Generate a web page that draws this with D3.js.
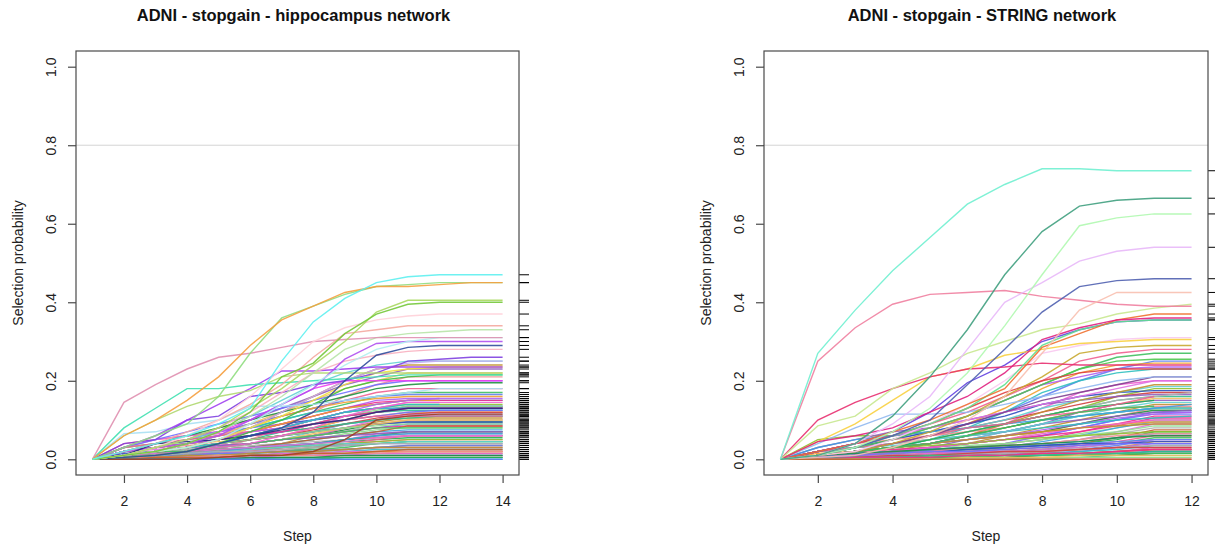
<!DOCTYPE html>
<html>
<head>
<meta charset="utf-8">
<script src="https://cdn.jsdelivr.net/npm/d3@7"></script>
<style>
  body { margin: 0; background: #fff; }
  svg { font-family: "Liberation Sans", Arial, sans-serif; }
</style>
</head>
<body>
<svg id="chart" width="1215" height="550"></svg>
<script>
// selection probability, in percent, one array per feature
const hippoSteps = [1, 2, 3, 4, 5, 6, 7, 8, 9, 10, 11, 12, 13, 14];
const hippoTicks = [2, 4, 6, 8, 10, 12, 14];
const hippoTop = [
  [0, 2, 4, 6, 9, 13, 25, 35, 41, 45, 46.5, 47, 47, 47],
  [0, 6, 10, 15, 21, 29, 35.5, 39, 42.5, 44, 44, 44.5, 45, 45],
  [0, 3, 6, 9, 16, 27, 36, 39, 42, 44, 44.5, 45, 45, 45],
  [0, 1, 2, 4, 7, 12, 21, 24.5, 32, 37, 39.5, 40, 40, 40],
  [0, 1, 3, 5, 8, 13, 18, 24, 30, 37.5, 40.5, 40.5, 40.5, 40.5],
  [0, 1, 3, 6, 10, 16, 23, 30, 33.5, 35.5, 36.5, 37, 37, 37],
  [0, 2, 4, 7, 10, 14, 19, 26, 32, 33, 34, 34, 34, 34],
  [0, 14.5, 19, 23, 26, 27, 28.5, 30, 30.5, 31, 31, 31, 31, 31],
  [0, 1, 2, 4, 7, 11, 16, 22, 28, 31, 32, 32.5, 33, 33],
  [0, 1, 2, 3, 5, 9, 14, 19, 24, 28, 30, 31, 31, 31],
  [0, 1, 2, 4, 6, 10, 14, 18, 25.5, 29.5, 30, 30, 30, 30],
  [0, 0.5, 1, 2, 4, 6, 8, 12, 20, 26.5, 28.5, 29, 29, 29],
  [0, 1, 3, 5, 8, 12, 17, 22, 25, 26.5, 27.5, 28, 28, 28],
  [0, 8, 13, 18, 18, 19, 19.5, 20, 20.5, 21, 21.5, 21.5, 21.5, 21.5],
  [0, 6, 10, 13.5, 16, 17.5, 21, 22, 22, 22, 22, 22, 22, 22],
  [0, 3, 6, 10, 14, 18, 22.5, 22.5, 23, 23.5, 23.5, 23.5, 23.5, 23.5],
  [0, 4, 5, 10, 11, 16, 17, 19, 20, 22, 25, 25.5, 26, 26],
  [0, 6.5, 7, 9, 10, 13.5, 13.5, 14, 15, 16, 17, 18, 18, 18],
  [0, 1, 2, 4, 7, 10, 14, 18, 20, 20, 20, 20, 20, 20],
  [0, 1, 2, 3, 5, 8, 11, 15, 19, 22, 23, 23.5, 23.5, 23.5],
  [0, 1, 2, 3, 5, 8, 12, 16, 20, 23, 24.5, 25, 25, 25],
  [0, 0.5, 1, 2, 4, 7, 10, 14, 18, 20, 21, 21.5, 21.5, 21.5],
  [0, 1, 4, 4.5, 5, 6, 7.5, 9, 10, 12, 13, 13, 13, 13],
  [0, 0, 0, 0, 0.5, 1, 1, 2, 5, 10, 11, 11.5, 11.5, 11.5]
];
const hippoLow = [
  [0, 4, 5, 6, 7, 9, 11, 13, 15, 17, 18, 18, 18, 18],
  [0, 3, 4, 5, 6, 8, 10, 12, 14, 16, 17, 17, 17, 17],
  [0, 2, 3, 5, 7, 9, 11, 13, 15, 16, 16.5, 16.5, 16.5, 16.5],
  [0, 1, 2, 4, 6, 8, 11, 13, 14.5, 15.5, 16, 16, 16, 16],
  [0, 2, 4, 6, 7, 8, 9, 11, 13, 15, 15.5, 15.5, 15.5, 15.5],
  [0, 1, 2, 4, 6, 8, 10, 12, 13, 14, 15, 15, 15, 15],
  [0, 3, 5, 6, 6.5, 7, 8, 10, 12, 13, 14.5, 14.5, 14.5, 14.5],
  [0, 1, 1, 2, 4, 6, 8, 10, 12, 13, 14, 14, 14, 14],
  [0, 2, 3, 4, 5, 7, 9, 10, 11, 12, 13.5, 13.5, 13.5, 13.5],
  [0, 1, 3, 4, 5, 6, 7, 8, 10, 12, 13, 13, 13, 13],
  [0, 0.5, 1, 2, 3, 5, 7, 9, 11, 12, 12.5, 12.5, 12.5, 12.5],
  [0, 2, 3, 4, 4.5, 5, 6, 8, 10, 11, 12, 12, 12, 12],
  [0, 1, 2, 3, 4, 5, 6, 7, 9, 10, 11.5, 11.5, 11.5, 11.5],
  [0, 1, 2, 2.5, 3, 4, 5, 7, 9, 10, 11, 11, 11, 11],
  [0, 0.5, 1, 1.5, 2, 3, 4, 6, 8, 9.5, 10.5, 10.5, 10.5, 10.5],
  [0, 2, 3, 3.5, 4, 5, 6, 7, 8, 9, 10, 10, 10, 10],
  [0, 1, 1.5, 2, 3, 4, 5, 6, 7.5, 9, 9.5, 9.5, 9.5, 9.5],
  [0, 0.5, 1, 2, 3, 4, 5, 6, 7, 8, 9, 9, 9, 9],
  [0, 1, 2, 3, 3.5, 4, 5, 6, 7, 8, 8.5, 8.5, 8.5, 8.5],
  [0, 0.5, 1, 1.5, 2, 3, 4, 5, 6.5, 7.5, 8, 8, 8, 8],
  [0, 1, 1.5, 2, 2.5, 3, 4, 5, 6, 7, 7.5, 7.5, 7.5, 7.5],
  [0, 0.5, 1, 1.5, 2, 2.5, 3, 4, 5, 6.5, 7, 7, 7, 7],
  [0, 1, 2, 2.5, 3, 3.5, 4, 4.5, 5, 6, 6.5, 6.5, 6.5, 6.5],
  [0, 0.5, 0.5, 1, 1.5, 2, 3, 4, 5, 5.5, 6, 6, 6, 6],
  [0, 1, 1.5, 2, 2.5, 3, 3.5, 4, 4.5, 5, 5.5, 5.5, 5.5, 5.5],
  [0, 0.5, 1, 1, 1.5, 2, 2.5, 3, 4, 4.5, 5, 5, 5, 5],
  [0, 0.5, 0.5, 1, 1, 1.5, 2, 3, 3.5, 4, 4.5, 4.5, 4.5, 4.5],
  [0, 0.5, 1, 1.5, 2, 2.5, 3, 3.5, 3.5, 4, 4, 4, 4, 4],
  [0, 0, 0.5, 0.5, 1, 1, 1.5, 2, 2.5, 3, 3.5, 3.5, 3.5, 3.5],
  [0, 0.5, 1, 1.5, 1.5, 2, 2, 2.5, 2.5, 3, 3, 3, 3, 3],
  [0, 0, 0.5, 0.5, 1, 1, 1.5, 1.5, 2, 2.5, 2.5, 2.5, 2.5, 2.5],
  [0, 0.5, 0.5, 1, 1, 1, 1.5, 1.5, 2, 2, 2, 2, 2, 2],
  [0, 0, 0, 0.5, 0.5, 1, 1, 1, 1.5, 1.5, 1.5, 1.5, 1.5, 1.5],
  [0, 0, 0.5, 0.5, 0.5, 1, 1, 1, 1, 1, 1, 1, 1, 1],
  [0, 0, 0, 0, 0.5, 0.5, 0.5, 0.5, 0.5, 0.5, 0.5, 0.5, 0.5, 0.5],
  [0, 0, 0, 0, 0, 0, 0.5, 0.5, 0.5, 0.5, 0.5, 0.5, 0.5, 0.5],
  [0, 1, 2, 4, 6, 9, 12, 15, 18, 20, 22, 22, 22, 22],
  [0, 2, 3, 5, 8, 10, 13, 16, 19, 21, 23, 23, 23, 23],
  [0, 1, 3, 5, 7, 11, 15, 19, 22, 24, 25, 25, 25, 25],
  [0, 1, 2, 3, 5, 8, 12, 16, 20, 23, 24, 24, 24, 24],
  [0, 0.5, 1, 2, 3, 5, 8, 12, 16, 19, 21, 21, 21, 21],
  [0, 2, 4, 6, 8, 10, 12, 14, 16, 18, 19, 19.5, 19.5, 19.5],
  [0, 3, 5, 7, 9, 11, 13, 15, 17, 19, 20, 20, 20, 20],
  [0, 1, 2, 3, 5, 7, 9, 11, 13, 14.5, 15, 15, 15, 15],
  [0, 3, 4, 4, 5, 6, 7, 9, 11, 12.5, 13.5, 13.5, 13.5, 13.5],
  [0, 1, 2, 3, 4, 6, 8, 10, 12, 13, 13, 13, 13, 13],
  [0, 2, 2.5, 3, 3.5, 4, 5, 6, 8, 10, 11, 11, 11, 11],
  [0, 1, 2, 2.5, 3, 4, 5, 6, 7, 9, 9.5, 10, 10, 10],
  [0, 0.5, 1, 1.5, 2, 3, 4, 5, 6, 7, 8.5, 8.5, 8.5, 8.5],
  [0, 1, 1.5, 2, 2.5, 3, 3.5, 4, 5, 6, 7, 7, 7, 7],
  [0, 0.5, 1, 1.5, 2, 2.5, 3, 3.5, 4, 5, 6, 6, 6, 6],
  [0, 0.5, 0.5, 1, 1, 1.5, 2, 2.5, 3, 4, 4.5, 4.5, 4.5, 4.5],
  [0, 0.5, 1, 1, 1.5, 1.5, 2, 2, 2.5, 3, 3.5, 3.5, 3.5, 3.5],
  [0, 0, 0.5, 0.5, 1, 1, 1, 1.5, 1.5, 2, 2, 2, 2, 2],
  [0, 0, 0, 0.5, 0.5, 0.5, 1, 1, 1, 1, 1, 1, 1, 1],
  [0, 0, 0, 0, 0, 0, 0, 0, 0, 0, 0, 0, 0, 0],
  [0, 0.5, 0.5, 0.5, 0.5, 0.5, 1, 1, 1, 1.5, 1.5, 1.5, 1.5, 1.5],
  [0, 1, 1.5, 2, 2.5, 3, 3, 3.5, 4, 4.5, 5, 5, 5, 5],
  [0, 1.5, 2, 3, 4, 5, 6, 7, 8, 9, 9.5, 9.5, 9.5, 9.5],
  [0, 1, 2, 3, 4, 5, 6, 7.5, 9, 10.5, 11.5, 12, 12, 12],
  [0, 2, 3, 4, 5, 6, 7, 8, 9, 10, 10.5, 11, 11, 11],
  [0, 0.5, 1, 2, 3, 4, 5, 6.5, 8, 9, 10, 10, 10, 10],
  [0, 1, 2, 3, 3.5, 4, 5, 5.5, 6, 6.5, 7, 7, 7, 7],
  [0, 0.5, 1, 1.5, 2, 2.5, 3, 3.5, 4, 4, 4.5, 4.5, 4.5, 4.5],
  [0, 0, 0.5, 1, 1, 1.5, 2, 2, 2.5, 3, 3, 3, 3, 3],
  [0, 0.5, 0.5, 0.5, 1, 1, 1, 1, 1.5, 1.5, 2, 2, 2, 2],
  [0, 0, 0, 0, 0, 0.5, 0.5, 0.5, 1, 1, 1, 1, 1, 1],
  [0, 1, 2, 3, 4, 6, 7, 9, 10, 11, 12, 12.5, 12.5, 12.5],
  [0, 2, 3, 4, 5, 6, 7, 9, 11, 12, 13, 13, 13, 13],
  [0, 1, 2, 3, 4, 5, 6, 7, 8, 8.5, 9, 9, 9, 9],
  [0, 0.5, 1, 1.5, 2, 3, 3.5, 4, 5, 6, 6.5, 6.5, 6.5, 6.5],
  [0, 1, 1.5, 2, 2.5, 3, 3.5, 4, 4.5, 5.5, 6, 6, 6, 6],
  [0, 0.5, 1, 1.5, 2, 2, 2.5, 3, 3.5, 4, 4, 4, 4, 4],
  [0, 0, 0.5, 0.5, 0.5, 1, 1, 1.5, 1.5, 2, 2.5, 2.5, 2.5, 2.5],
  [0, 0, 0, 0, 0, 0, 0, 0, 0.5, 0.5, 0.5, 0.5, 0.5, 0.5],
  [0, 3, 4, 5, 6, 7, 8, 9, 10, 11, 11, 11, 11, 11],
  [0, 1, 2, 2, 3, 4, 5, 6, 7, 8, 8, 8, 8, 8],
  [0, 0, 0, 0, 0, 0, 0, 0, 0, 0, 0, 0, 0, 0],
  [0, 1, 2, 3, 5, 7, 9, 11, 13, 14, 15, 15],
  [0, 2, 3, 4, 5, 7, 8, 10, 12, 14, 15, 15.5],
  [0, 1, 2, 3, 4, 6, 8, 10, 12, 13, 14, 14],
  [0, 0.5, 1, 2, 3, 4, 6, 8, 11, 13, 14.5, 14.5]
];

const stringSteps = [1, 2, 3, 4, 5, 6, 7, 8, 9, 10, 11, 12];
const stringTicks = [2, 4, 6, 8, 10, 12];
const stringTop = [
  [0, 27, 38, 48, 56.5, 65, 70, 74, 74, 73.5, 73.5, 73.5],
  [0, 1, 4, 11, 21, 33, 47, 58, 64.5, 66, 66.5, 66.5],
  [0, 1, 3, 7, 13, 22, 34, 47, 59.5, 61.5, 62.5, 62.5],
  [0, 1, 4, 9, 16, 28, 40, 45, 50.5, 53, 54, 54],
  [0, 1, 3, 6, 10, 19, 28, 37.5, 44, 45.5, 46, 46],
  [0, 0.5, 1, 3, 6, 10, 16, 27, 38, 42.5, 42.5, 42.5],
  [0, 25, 33.5, 39.5, 42, 42.5, 43, 41.5, 40.5, 39.5, 39, 39],
  [0, 8.5, 11, 18, 22, 27, 30, 33, 34.5, 37, 38.5, 39.5],
  [0, 4.5, 6, 8, 12, 16, 22, 30.5, 33.5, 35.5, 36, 36],
  [0, 2, 4, 7, 10, 14, 18, 28.5, 32, 35.5, 37, 37],
  [0, 1, 3, 6, 9, 13, 19, 29, 33, 35, 35.5, 35.5],
  [0, 10, 14.5, 18, 21, 23, 23.5, 24.5, 24, 24, 24, 24],
  [0, 4.5, 9, 15, 21, 23, 26.5, 28, 29.5, 30, 30.5, 30.5],
  [0, 2, 4, 7, 12, 19.5, 24, 30, 33, 35, 35.5, 35.5],
  [0, 1, 2, 5, 9, 14, 20, 27, 29, 30.5, 31, 31],
  [0, 1, 2, 4, 7, 11, 16, 21, 27, 28.5, 29, 29],
  [0, 4, 8, 11.5, 11.5, 12, 14, 16, 18, 20, 21, 21],
  [0, 1, 2, 4, 6, 9, 12, 15, 17, 19, 21, 21],
  [0, 2, 4, 6, 9, 13, 17, 20, 22, 23, 23, 23],
  [0, 1, 3, 5, 8, 11, 15, 19, 23, 25, 25.5, 25.5]
];
const stringLow = [
  [0, 2, 4, 6, 9, 12, 16, 20, 25, 27, 28, 28],
  [0, 1, 3, 5, 8, 11, 15, 19, 23, 26, 27, 27],
  [0, 2, 3, 5, 7, 9, 12, 16, 20, 23, 25, 25],
  [0, 1, 2, 4, 6, 9, 13, 18, 22, 24, 24.5, 24.5],
  [0, 2, 4, 6, 8, 11, 15, 19, 21, 23, 23.5, 23.5],
  [0, 1, 2, 3, 5, 8, 12, 17, 20, 22, 23, 23],
  [0, 1, 2, 3, 4, 6, 9, 13, 17, 19, 20, 20],
  [0, 5, 6, 6, 7, 8, 9, 11, 13, 16, 18, 18],
  [0, 1, 3, 5, 7, 9, 11, 14, 16, 17, 17.5, 17.5],
  [0, 2, 3, 4, 6, 8, 10, 12, 14, 16, 17, 17],
  [0, 1, 2, 3, 5, 7, 9, 11, 13, 15, 16, 16],
  [0, 1, 2, 4, 5, 6, 8, 10, 12, 14, 15.5, 15.5],
  [0, 0.5, 1, 2, 3, 5, 7, 9, 12, 14, 15, 15],
  [0, 2, 3, 3.5, 4, 5, 7, 9, 11, 13, 14.5, 14.5],
  [0, 1, 1.5, 2, 3, 4, 6, 8, 10, 12, 14, 14],
  [0, 0.5, 1, 2, 3, 4, 5, 7, 9, 11, 13, 13],
  [0, 1, 2, 3, 4, 5, 6, 7, 9, 11, 12.5, 12.5],
  [0, 1, 1, 2, 2.5, 3, 4, 6, 8, 10, 12, 12],
  [0, 0.5, 1, 1.5, 2, 3, 4, 5, 7, 9, 11, 11],
  [0, 1, 2, 2.5, 3, 3.5, 4, 5, 6.5, 8, 10, 10],
  [0, 0.5, 1, 1.5, 2, 2.5, 3, 4.5, 6, 8, 9.5, 9.5],
  [0, 1, 1.5, 2, 2.5, 3, 3.5, 4, 5, 7, 9, 9],
  [0, 0.5, 1, 1, 1.5, 2, 3, 4, 5, 6.5, 8, 8],
  [0, 0.5, 0.5, 1, 1.5, 2, 2.5, 3, 4, 5.5, 7.5, 7.5],
  [0, 1, 1.5, 2, 2, 2.5, 3, 3.5, 4, 5, 7, 7],
  [0, 0.5, 1, 1, 1.5, 1.5, 2, 2.5, 3.5, 4.5, 6, 6],
  [0, 0.5, 0.5, 1, 1, 1.5, 2, 2.5, 3, 4, 5.5, 5.5],
  [0, 0.5, 1, 1, 1, 1.5, 1.5, 2, 2.5, 3.5, 5, 5],
  [0, 0, 0.5, 0.5, 1, 1, 1.5, 2, 2.5, 3, 4.5, 4.5],
  [0, 0.5, 0.5, 1, 1, 1, 1.5, 1.5, 2, 3, 4, 4],
  [0, 0, 0.5, 0.5, 0.5, 1, 1, 1.5, 2, 2.5, 3.5, 3.5],
  [0, 0.5, 0.5, 0.5, 1, 1, 1, 1.5, 1.5, 2, 3, 3],
  [0, 0, 0, 0.5, 0.5, 0.5, 1, 1, 1.5, 2, 2.5, 2.5],
  [0, 0, 0.5, 0.5, 0.5, 0.5, 1, 1, 1, 1.5, 2, 2],
  [0, 0, 0, 0, 0.5, 0.5, 0.5, 1, 1, 1, 1.5, 1.5],
  [0, 0, 0, 0, 0, 0.5, 0.5, 0.5, 0.5, 1, 1, 1],
  [0, 0, 0, 0, 0, 0, 0, 0.5, 0.5, 0.5, 0.5, 0.5],
  [0, 3, 5, 7, 8, 10, 12, 14, 15, 16, 16.5, 16.5],
  [0, 1, 2, 4, 6, 8, 10, 13, 15, 17, 18.5, 18.5],
  [0, 0.5, 1, 2, 4, 6, 9, 12, 15, 17, 19, 19],
  [0, 2, 4, 5, 6, 7, 8, 10, 12, 13, 13.5, 13.5],
  [0, 1, 2, 3, 4, 6, 8, 10, 11, 12, 13, 13],
  [0, 0.5, 1, 2, 3, 4, 5, 6, 8, 10, 11.5, 11.5],
  [0, 1, 2, 2.5, 3, 4, 5, 6, 7, 8.5, 10.5, 10.5],
  [0, 0.5, 1, 1.5, 2, 3, 4, 5, 6, 7, 8.5, 8.5],
  [0, 1, 1.5, 2, 2.5, 3, 3.5, 4, 4.5, 5.5, 6.5, 6.5],
  [0, 0.5, 1, 1, 1.5, 2, 2, 2.5, 3, 4, 5, 5],
  [0, 0.5, 0.5, 1, 1, 1.5, 1.5, 2, 2.5, 3, 3.5, 3.5],
  [0, 0, 0.5, 0.5, 1, 1, 1, 1.5, 1.5, 2, 2.5, 2.5],
  [0, 0, 0, 0.5, 0.5, 0.5, 0.5, 1, 1, 1, 1.5, 1.5],
  [0, 0, 0, 0, 0, 0, 0, 0, 0, 0, 0, 0],
  [0, 0.5, 0.5, 0.5, 0.5, 0.5, 1, 1, 1, 1.5, 1.5, 1.5],
  [0, 1, 1.5, 2, 2.5, 3, 3, 3.5, 4, 4.5, 5, 5],
  [0, 1.5, 2, 3, 4, 5, 6, 7, 8, 9, 9.5, 9.5],
  [0, 1, 2, 3, 4, 5, 6, 7.5, 9, 10.5, 11.5, 12],
  [0, 2, 3, 4, 5, 6, 7, 8, 9, 10, 10.5, 11],
  [0, 0.5, 1, 2, 3, 4, 5, 6.5, 8, 9, 10, 10],
  [0, 1, 2, 3, 3.5, 4, 5, 5.5, 6, 6.5, 7, 7],
  [0, 0.5, 1, 1.5, 2, 2.5, 3, 3.5, 4, 4, 4.5, 4.5],
  [0, 0, 0.5, 1, 1, 1.5, 2, 2, 2.5, 3, 3, 3],
  [0, 0.5, 0.5, 0.5, 1, 1, 1, 1, 1.5, 1.5, 2, 2],
  [0, 0, 0, 0, 0, 0.5, 0.5, 0.5, 1, 1, 1, 1],
  [0, 1, 2, 3, 4, 6, 7, 9, 10, 11, 12, 12.5],
  [0, 2, 3, 4, 5, 6, 7, 9, 11, 12, 13, 13],
  [0, 1, 2, 3, 4, 5, 6, 7, 8, 8.5, 9, 9],
  [0, 0.5, 1, 1.5, 2, 3, 3.5, 4, 5, 6, 6.5, 6.5],
  [0, 1, 1.5, 2, 2.5, 3, 3.5, 4, 4.5, 5.5, 6, 6],
  [0, 0.5, 1, 1.5, 2, 2, 2.5, 3, 3.5, 4, 4, 4],
  [0, 0, 0.5, 0.5, 0.5, 1, 1, 1.5, 1.5, 2, 2.5, 2.5],
  [0, 0, 0, 0, 0, 0, 0, 0, 0.5, 0.5, 0.5, 0.5],
  [0, 3, 5, 6, 7, 8, 9, 10, 11, 12, 13, 14],
  [0, 2, 4, 6, 8, 10, 12, 14, 16, 18, 20, 20],
  [0, 1, 2, 4, 5, 7, 9, 11, 13, 15, 16, 17],
  [0, 0, 0, 0, 0, 0, 0, 0, 0, 0, 0, 0],
  [0, 1, 2, 3, 5, 7, 9, 11, 13, 14, 15],
  [0, 2, 3, 4, 6, 8, 9, 11, 12, 14, 16],
  [0, 1, 2, 3, 4, 6, 8, 10, 12, 13, 13.5]
];

// colours for the highlighted lines, then a cycle for the crowd
const hippoTopColors = ["#5ef0f0", "#f5a040", "#90dd80", "#74c83a", "#a8d860", "#ffd0d8", "#f4a8a0",
  "#e090b0", "#b8e4a8", "#b0f0f0", "#b050f0", "#304c9c", "#f8b0c0", "#40e0b0", "#b0d870", "#a040f0",
  "#8040e0", "#a8e0f4", "#f040f0", "#f0e040", "#c8a8f4", "#40c040", "#203080", "#a04020"];
const stringTopColors = ["#70f0d0", "#40a080", "#b0f8b0", "#e8b8f8", "#5060b0", "#f8c0b0", "#f080a0",
  "#c8e890", "#e02080", "#f07030", "#60e090", "#e83070", "#f8d040", "#6040e0", "#f8c8f0", "#c8a830",
  "#90b8f0", "#804090", "#e04040", "#50c850"];
const crowdColors = ["#f06090", "#40c060", "#6080f0", "#f0a030", "#b060f0", "#30c0c0", "#f060d0",
  "#90c030", "#3050c0", "#d04040", "#30c090", "#f0c060", "#9060c0", "#60d0d0", "#c09030", "#f09090",
  "#209040", "#7070ff", "#f03090", "#90e090", "#40a0e0", "#e070e0", "#b0b0b0", "#c06030", "#20b050"];

const svg = d3.select("#chart");

function drawPanel(p) {
  const top = 51, bottom = 475;
  const first = p.steps[0], last = p.steps[p.steps.length - 1];
  const pad = (last - first) * 0.04;
  const x = d3.scaleLinear().domain([first - pad, last + pad]).range([p.x0, p.x1]);
  const y = d3.scaleLinear().domain([-0.04, 1.04]).range([bottom, top]);
  const g = svg.append("g");

  g.append("line")
    .attr("x1", p.x0).attr("x2", p.x1)
    .attr("y1", y(0.8)).attr("y2", y(0.8))
    .attr("stroke", "#d4d4d4").attr("stroke-width", 1);

  const line = d3.line()
    .x((d, i) => x(p.steps[i]))
    .y(d => y(d / 100));

  const all = p.low.map((s, i) => ({ s, c: crowdColors[i % crowdColors.length] }))
    .concat(p.top.map((s, i) => ({ s, c: p.topColors[i] })).reverse());

  g.selectAll(".series")
    .data(all)
    .join("path")
    .attr("class", "series")
    .attr("d", d => line(d.s))
    .attr("fill", "none")
    .attr("stroke", d => d.c)
    .attr("stroke-opacity", 0.9)
    .attr("stroke-width", 1.4);

  // rug of final values on the right
  g.selectAll(".rug")
    .data(all)
    .join("line")
    .attr("class", "rug")
    .attr("x1", p.x1).attr("x2", p.x1 + 10)
    .attr("y1", d => y(d.s[d.s.length - 1] / 100))
    .attr("y2", d => y(d.s[d.s.length - 1] / 100))
    .attr("stroke", "#000").attr("stroke-width", 1);

  g.append("rect")
    .attr("x", p.x0).attr("y", top)
    .attr("width", p.x1 - p.x0).attr("height", bottom - top)
    .attr("fill", "none").attr("stroke", "#4a4a4a").attr("stroke-width", 1.2);

  const xAxis = g.append("g")
    .attr("transform", `translate(0,${bottom})`)
    .call(d3.axisBottom(x).tickValues(p.ticks).tickSize(8).tickSizeOuter(0).tickPadding(13));
  xAxis.select(".domain").remove();
  xAxis.selectAll("line").attr("stroke", "#4a4a4a").attr("stroke-width", 1.2);
  xAxis.selectAll("text").attr("font-size", 14).attr("fill", "#222")
    .attr("font-family", "Liberation Sans, Arial, sans-serif");

  const yAxis = g.append("g")
    .attr("transform", `translate(${p.x0},0)`)
    .call(d3.axisLeft(y).tickValues([0, 0.2, 0.4, 0.6, 0.8, 1]).tickFormat(d3.format(".1f")).tickSize(8).tickSizeOuter(0));
  yAxis.select(".domain").remove();
  yAxis.selectAll("line").attr("stroke", "#4a4a4a").attr("stroke-width", 1.2);
  yAxis.selectAll("text")
    .attr("x", null).attr("dy", "0.35em")
    .attr("text-anchor", "middle")
    .attr("transform", "translate(-25,0) rotate(-90)")
    .attr("font-size", 14).attr("fill", "#222")
    .attr("font-family", "Liberation Sans, Arial, sans-serif");

  const cx = (p.x0 + p.x1) / 2;
  g.append("text")
    .attr("x", cx - 4).attr("y", 21)
    .attr("text-anchor", "middle")
    .attr("font-size", 16.5).attr("font-weight", "bold").attr("fill", "#111")
    .text(p.title);

  g.append("text")
    .attr("x", cx).attr("y", 541)
    .attr("text-anchor", "middle")
    .attr("font-size", 14).attr("fill", "#222")
    .text("Step");

  g.append("text")
    .attr("transform", `translate(${p.x0 - 58},${(top + bottom) / 2}) rotate(-90)`)
    .attr("dy", "0.35em")
    .attr("text-anchor", "middle")
    .attr("font-size", 14).attr("fill", "#222")
    .text("Selection probability");
}

drawPanel({ x0: 76, x1: 519, title: "ADNI - stopgain - hippocampus network",
  steps: hippoSteps, ticks: hippoTicks, top: hippoTop, low: hippoLow, topColors: hippoTopColors });
drawPanel({ x0: 764, x1: 1208, title: "ADNI - stopgain - STRING network",
  steps: stringSteps, ticks: stringTicks, top: stringTop, low: stringLow, topColors: stringTopColors });
</script>
</body>
</html>
